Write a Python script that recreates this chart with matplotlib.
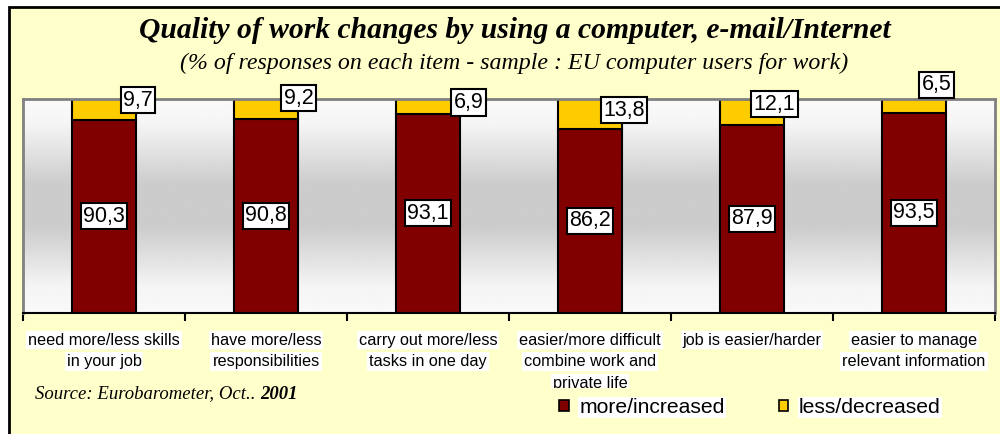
import numpy as np
import matplotlib
matplotlib.use('Agg')
from matplotlib import pyplot as plt
from matplotlib.patches import Rectangle
from matplotlib.transforms import Bbox

categories = ['need more/less skills\nin your job',
              'have more/less\nresponsibilities',
              'carry out more/less\ntasks in one day',
              'easier/more difficult\ncombine work and\nprivate life',
              'job is easier/harder',
              'easier to manage\nrelevant information']
more_increased = [90.3, 90.8, 93.1, 86.2, 87.9, 93.5]
less_decreased = [9.7, 9.2, 6.9, 13.8, 12.1, 6.5]

# where the small labels sit relative to the bar centre (x in categories, y in %)
top_dx = [0.21, 0.20, 0.25, 0.21, 0.14, 0.14]
top_dy = [4.3, 4.9, 1.8, 1.6, 3.7, 9.8]

dark_red = '#800000'
gold = '#ffcc00'
frame_bg = '#ffffcc'

fig = plt.figure(figsize=(10, 4.34), dpi=100)
fig.patch.set_facecolor('white')

# pale yellow chart frame
fig.add_artist(Rectangle((0.009, -0.05), 1.05, 1.05 - 0.016, transform=fig.transFigure,
                         facecolor=frame_bg, edgecolor='black', linewidth=2, zorder=0))

ax = fig.add_axes([0.023, 0.2788, 0.972, 0.4931])
ax.set_zorder(2)

x = np.arange(len(categories))
ax.set_xlim(-0.5, len(categories) - 0.5)
ax.set_ylim(0, 100)

# grey band gradient behind the bars
t = np.linspace(0, 1, 256)
shade = np.interp(t, [0, 0.12, 0.4, 0.6, 0.88, 1], [0.975, 0.96, 0.8, 0.8, 0.96, 0.98])
grad = np.repeat(shade[:, None], 2, axis=1)
ax.imshow(grad, extent=(-0.5, len(categories) - 0.5, 0, 100), aspect='auto',
          cmap='gray', vmin=0, vmax=1, origin='lower', zorder=0)

ax.bar(x, more_increased, width=0.4, color=dark_red, edgecolor='black', linewidth=1.5, zorder=2)
ax.bar(x, less_decreased, width=0.4, bottom=more_increased, color=gold,
       edgecolor='black', linewidth=1.5, zorder=2)

box = dict(boxstyle='square,pad=0.12', facecolor='white', edgecolor='black', linewidth=1.5)
for i in range(len(categories)):
    ax.text(x[i], more_increased[i] / 2, f'{more_increased[i]:.1f}'.replace('.', ','),
            ha='center', va='center', fontsize=15.5, family='Liberation Sans', bbox=box, zorder=4)
    ytop = more_increased[i] + less_decreased[i] / 2 + top_dy[i]
    ax.text(x[i] + top_dx[i], ytop, f'{less_decreased[i]:.1f}'.replace('.', ','),
            ha='center', va='center', fontsize=15.5, family='Liberation Sans', bbox=box,
            zorder=4, clip_on=False)

for side in ['top', 'right', 'left']:
    ax.spines[side].set_color('#808080')
    ax.spines[side].set_linewidth(2)
ax.spines['bottom'].set_linewidth(1.5)
ax.set_yticks([])
ax.set_xticks(np.arange(len(categories) + 1) - 0.5)
ax.set_xticklabels([])
ax.tick_params(axis='x', direction='out', length=6, width=1.5, color='black')

# category names, one white strip per line, cut off above the legend row
label_clip = Bbox.from_extents(0, 1 - 388 / 434, 1, 1).transformed(fig.transFigure)
for i, cat in enumerate(categories):
    for j, line in enumerate(cat.split('\n')):
        tx = ax.annotate(line, xy=(x[i], 0), xycoords=('data', 'axes fraction'),
                         xytext=(0, -27 - 21.5 * j), textcoords='offset pixels',
                         ha='center', va='center', fontsize=11.7, family='Liberation Sans',
                         annotation_clip=False,
                         bbox=dict(boxstyle='square,pad=0.12', facecolor='white', edgecolor='none'))
        tx.set_clip_on(True)
        tx.set_clip_box(label_clip)

fig.text(0.515, 0.93, 'Quality of work changes by using a computer, e-mail/Internet',
         ha='center', va='center', fontsize=21.3, family='Liberation Serif',
         style='italic', weight='bold')
fig.text(0.514, 0.853, '(% of responses on each item - sample : EU computer users for work)',
         ha='center', va='center', fontsize=17.2, family='Liberation Serif', style='italic')

src = fig.text(0.035, 0.094, 'Source: Eurobarometer, Oct.. ', ha='left', va='center',
               fontsize=13.5, family='Liberation Serif', style='italic')
fig.canvas.draw()
bb = src.get_window_extent().transformed(fig.transFigure.inverted())
fig.text(bb.x1, 0.09, '2001', ha='left', va='center', fontsize=13.5,
         family='Liberation Serif', style='italic', weight='bold')

leg = fig.legend([Rectangle((0, 0), 1, 1, facecolor=dark_red, edgecolor='black', linewidth=1.2),
                  Rectangle((0, 0), 1, 1, facecolor=gold, edgecolor='black', linewidth=1.2)],
                 ['more/increased', 'less/decreased'], loc='center', bbox_to_anchor=(0.750, 0.061),
                 ncol=2, frameon=False, prop={'family': 'Liberation Sans', 'size': 15.2},
                 handlelength=0.45, handleheight=0.45, handletextpad=0.5, columnspacing=2.57)
for tt in leg.get_texts():
    tt.set_bbox(dict(boxstyle='square,pad=0.05', facecolor='white', edgecolor='none'))

fig.savefig('out.png', dpi=100, facecolor=fig.get_facecolor())
